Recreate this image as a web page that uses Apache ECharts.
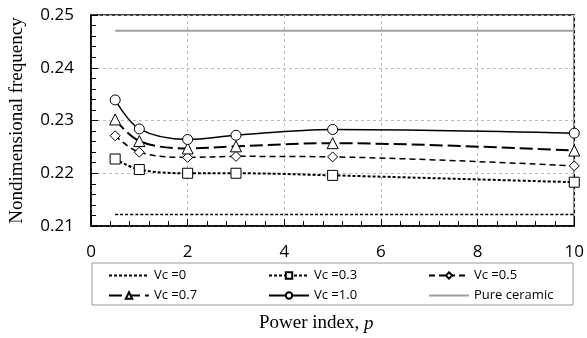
<!DOCTYPE html>
<html>
<head>
<meta charset="utf-8">
<script src="https://cdn.jsdelivr.net/npm/echarts@6/dist/echarts.min.js"></script>
<style>
  html, body { margin: 0; padding: 0; background: #fff; }
  #chart { width: 587px; height: 338px; }
</style>
</head>
<body>
<div id="chart"></div>
<script>
var powerIndex = [0.5, 1, 2, 3, 5, 10];
var vc0 = [0.2122, 0.2122, 0.2122, 0.2122, 0.2122, 0.2122];
var vc03 = [0.2227, 0.2207, 0.2200, 0.2200, 0.2196, 0.2183];
var vc05 = [0.2271, 0.2240, 0.2230, 0.2232, 0.2231, 0.2214];
var vc07 = [0.2302, 0.2261, 0.2247, 0.2251, 0.2257, 0.2243];
var vc10 = [0.2339, 0.2284, 0.2264, 0.2272, 0.2283, 0.2276];
var pureCeramic = [0.2470, 0.2470, 0.2470, 0.2470, 0.2470, 0.2470];
var seriesNames = ['Vc =0', 'Vc =0.3', 'Vc =0.5', 'Vc =0.7', 'Vc =1.0', 'Pure ceramic'];
var seriesSymbols = [null, 'rect', 'diamond', 'triangle', 'circle', null];

var tickFont = 'Open Sans';
var serifFont = 'Liberation Serif';

function pairs(values) {
  return powerIndex.map(function(p, i) { return [p, values[i]]; });
}

function makeSeries(idx, values, dash, width, color) {
  var symbol = seriesSymbols[idx];
  return {
    name: seriesNames[idx],
    type: 'line',
    data: pairs(values),
    smooth: 0.35,
    symbol: symbol || 'none',
    symbolSize: symbol === 'triangle' ? 11 : 10,
    showSymbol: !!symbol,
    lineStyle: { color: color || '#000', width: width, type: dash },
    itemStyle: { color: '#fff', borderColor: '#000', borderWidth: 1 },
    emphasis: { disabled: true },
    z: 3
  };
}

// one legend per entry so the three columns line up like the original
var legends = seriesNames.map(function(name, i) {
  var item = { name: name };
  if (!seriesSymbols[i]) {
    item.itemStyle = { color: 'rgba(0,0,0,0)', borderColor: 'rgba(0,0,0,0)', borderWidth: 0 };
  }
  return {
    data: [item],
    left: 108 + (i % 3) * 160,
    top: 269 + Math.floor(i / 3) * 20,
    itemWidth: 40,
    itemHeight: 8,
    padding: 0,
    textStyle: { fontFamily: tickFont, fontSize: 13, color: '#000' },
    selectedMode: false
  };
});

var chart = echarts.init(document.getElementById('chart'));

chart.setOption({
  animation: false,
  title: {
    text: '{a|Power index, }{b|p}',
    left: 259,
    top: 314,
    padding: 0,
    textStyle: {
      fontWeight: 'normal',
      rich: {
        a: { fontFamily: serifFont, fontSize: 19, fontWeight: 'normal', color: '#000' },
        b: { fontFamily: serifFont, fontSize: 19, fontWeight: 'normal', fontStyle: 'italic', color: '#000' }
      }
    }
  },
  grid: {
    left: 91, right: 11, top: 15, bottom: 112,
    show: true, borderColor: '#000', borderWidth: 1.5
  },
  legend: legends,
  graphic: [{
    type: 'rect',
    shape: { x: 92, y: 263, width: 481, height: 42 },
    style: { fill: 'none', stroke: '#999', lineWidth: 1 }
  }],
  xAxis: {
    type: 'value',
    min: 0, max: 10, interval: 2,
    axisLine: { lineStyle: { color: '#000', width: 1.5 } },
    axisTick: { inside: true, length: 7, lineStyle: { color: '#000' } },
    minorTick: { show: true, splitNumber: 5, length: 5, lineStyle: { color: '#000' } },
    axisLabel: { fontFamily: tickFont, fontSize: 17, color: '#000', margin: 18 },
    splitLine: { show: true, lineStyle: { color: '#bbb', type: [3, 3] } }
  },
  yAxis: {
    type: 'value',
    min: 0.21, max: 0.25, interval: 0.01,
    name: 'Nondimensional frequency',
    nameLocation: 'middle',
    nameGap: 64,
    nameTextStyle: { fontFamily: serifFont, fontSize: 19, color: '#000' },
    axisLine: { show: true, lineStyle: { color: '#000', width: 1.5 } },
    axisTick: { show: true, inside: true, length: 7, lineStyle: { color: '#000' } },
    minorTick: { show: true, splitNumber: 5, length: 5, lineStyle: { color: '#000' } },
    axisLabel: {
      fontFamily: tickFont, fontSize: 17, color: '#000', margin: 17,
      formatter: function(v) { return v.toFixed(2); }
    },
    splitLine: { show: true, lineStyle: { color: '#bbb', type: [3, 3] } }
  },
  series: [
    makeSeries(0, vc0, [3, 2], 1.5),
    makeSeries(1, vc03, [3, 2], 2),
    makeSeries(2, vc05, [6, 4], 1.5),
    makeSeries(3, vc07, [13, 5], 2),
    makeSeries(4, vc10, 'solid', 1.5),
    makeSeries(5, pureCeramic, 'solid', 2, '#a0a0a0')
  ]
});
</script>
</body>
</html>
